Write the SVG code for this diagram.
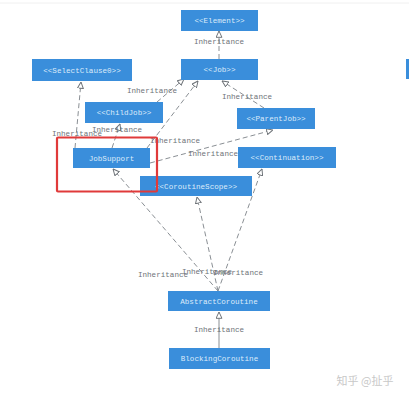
<svg xmlns="http://www.w3.org/2000/svg" width="409" height="400" viewBox="0 0 409 400">
<style>
.n{fill:#3a8edb}
.t{font-family:"Liberation Mono","DejaVu Sans Mono",monospace;font-size:7.6px;fill:#dcebfa;text-anchor:middle}
.l{font-family:"Liberation Mono","DejaVu Sans Mono",monospace;font-size:7.6px;fill:#6e7378;text-anchor:middle}
.c{stroke:#8a8f94;stroke-width:1;fill:none;stroke-dasharray:5,3}
.s{stroke:#8a8f94;stroke-width:1;fill:none}
</style>
<defs>
<marker id="tri" viewBox="0 0 10 10" refX="9.5" refY="5" markerWidth="7" markerHeight="7" markerUnits="userSpaceOnUse" orient="auto">
<path d="M0.5,0.8 L9.5,5 L0.5,9.2 Z" fill="#fff" stroke="#6e7378" stroke-width="1.4"/>
</marker>
</defs>
<rect width="409" height="400" fill="#fff"/>
<line x1="0" y1="3" x2="409" y2="3" stroke="#f0f0f0" stroke-width="1"/>
<g id="connectors">
<line class="c" x1="219" y1="59" x2="219" y2="31" marker-end="url(#tri)"/>
<line class="c" x1="157" y1="102" x2="184" y2="79" marker-end="url(#tri)"/>
<line class="c" x1="147" y1="148" x2="198" y2="81" marker-end="url(#tri)"/>
<line class="c" x1="264" y1="108" x2="222" y2="81" marker-end="url(#tri)"/>
<line class="c" x1="150" y1="163" x2="273" y2="130" marker-end="url(#tri)"/>
<line class="c" x1="75" y1="148" x2="81" y2="82" marker-end="url(#tri)"/>
<line class="c" x1="112" y1="148" x2="120" y2="124" marker-end="url(#tri)"/>
<line class="c" x1="218" y1="291" x2="113" y2="169" marker-end="url(#tri)"/>
<line class="c" x1="218" y1="291" x2="197" y2="197" marker-end="url(#tri)"/>
<line class="c" x1="218" y1="291" x2="262" y2="169" marker-end="url(#tri)"/>
<line class="s" x1="219" y1="348" x2="219" y2="312" marker-end="url(#tri)"/>
<text class="l" x="219" y="44">Inheritance</text>
<text class="l" x="152" y="93">Inheritance</text>
<text class="l" x="175" y="143">Inheritance</text>
<text class="l" x="247" y="99">Inheritance</text>
<text class="l" x="213" y="156">Inheritance</text>
<text class="l" x="77" y="136">Inheritance</text>
<text class="l" x="117" y="132">Inheritance</text>
<text class="l" x="163" y="277">Inheritance</text>
<text class="l" x="207" y="274">Inheritance</text>
<text class="l" x="238" y="275">Inheritance</text>
<text class="l" x="219" y="332">Inheritance</text>
</g>
<g id="Element"><rect class="n" x="181" y="10" width="77" height="21"/><text class="t" x="219.5" y="23">&lt;&lt;Element&gt;&gt;</text></g>
<g id="Job"><rect class="n" x="181" y="59" width="77" height="21"/><text class="t" x="219.5" y="72">&lt;&lt;Job&gt;&gt;</text></g>
<g id="SelectClause0"><rect class="n" x="32" y="59" width="100" height="22"/><text class="t" x="82" y="72.5">&lt;&lt;SelectClause0&gt;&gt;</text></g>
<g id="ChildJob"><rect class="n" x="85" y="102" width="78" height="21"/><text class="t" x="124" y="115">&lt;&lt;ChildJob&gt;&gt;</text></g>
<g id="ParentJob"><rect class="n" x="237" y="108" width="78" height="21"/><text class="t" x="276" y="121">&lt;&lt;ParentJob&gt;&gt;</text></g>
<g id="JobSupport"><rect class="n" x="73" y="148" width="77" height="20"/><text class="t" x="111.5" y="160.5">JobSupport</text></g>
<g id="Continuation"><rect class="n" x="238" y="147" width="98" height="21"/><text class="t" x="287" y="160">&lt;&lt;Continuation&gt;&gt;</text></g>
<g id="CoroutineScope"><rect class="n" x="140" y="176" width="112" height="20"/><text class="t" x="196" y="188.5">&lt;&lt;CoroutineScope&gt;&gt;</text></g>
<g id="AbstractCoroutine"><rect class="n" x="168" y="291" width="102" height="20"/><text class="t" x="219" y="303.5">AbstractCoroutine</text></g>
<g id="BlockingCoroutine"><rect class="n" x="169" y="348" width="101" height="21"/><text class="t" x="219.5" y="361">BlockingCoroutine</text></g>
<g id="Partial"><rect class="n" x="406" y="59" width="3" height="20"/></g>
<rect x="57" y="137.5" width="100" height="54" fill="none" stroke="#e03a3a" stroke-width="2.2" rx="1"/>
<text x="365" y="385" font-family="'Noto Sans CJK SC',sans-serif" font-size="11" fill="#c8c8c8" text-anchor="middle">知乎 @扯乎</text>
</svg>
